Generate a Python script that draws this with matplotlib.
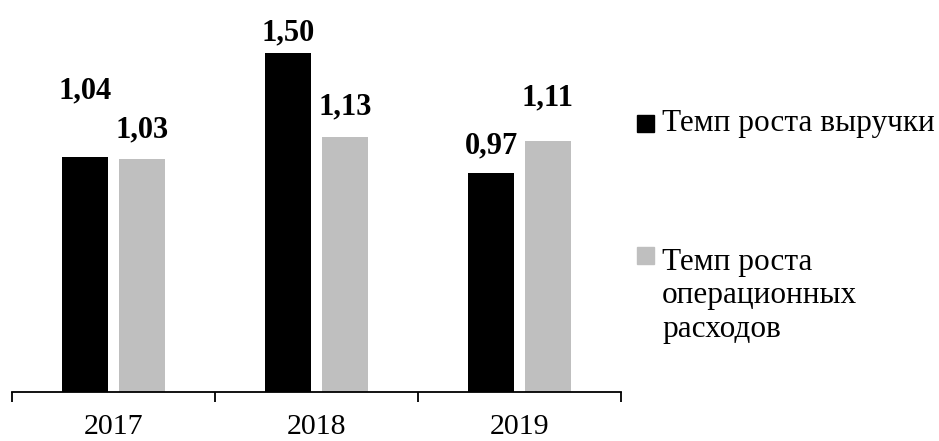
import matplotlib.pyplot as plt
import numpy as np
from matplotlib.patches import Rectangle

years = ['2017', '2018', '2019']
revenue = [1.04, 1.50, 0.97]
opex = [1.03, 1.13, 1.11]
series_names = ['Темп роста выручки', 'Темп роста\nоперационных\nрасходов']
colors = ['#000000', '#BFBFBF']
# label lift above each bar (data units), as placed in the original
rev_lift = [0.29, 0.09, 0.12]
opex_lift = [0.13, 0.13, 0.19]

plt.rcParams['font.family'] = ['Liberation Serif', 'DejaVu Serif']

fig = plt.figure(figsize=(9.39, 4.41), dpi=100)
ax = fig.add_axes([12/939, 49/441, 609/939, 0.82])

x = np.arange(len(years))
w = 0.227
off = 0.139
ax.bar(x - off, revenue, w, color=colors[0])
ax.bar(x + off, opex, w, color=colors[1])

for i in range(len(years)):
    ax.text(x[i] - off, revenue[i] + rev_lift[i], f'{revenue[i]:.2f}'.replace('.', ','),
            ha='center', va='center', fontsize=22, fontweight='bold')
    ax.text(x[i] + off, opex[i] + opex_lift[i], f'{opex[i]:.2f}'.replace('.', ','),
            ha='center', va='center', fontsize=22, fontweight='bold')

ax.set_xlim(-0.5, len(years) - 0.5)
ax.set_ylim(0, 1.6)
for s in ['top', 'right', 'left']:
    ax.spines[s].set_visible(False)
ax.spines['bottom'].set_linewidth(1.3)
ax.set_yticks([])
ax.set_xticks(x)
ax.set_xticklabels(years, fontsize=21.5)
ax.tick_params(axis='x', which='major', length=0, pad=16)
ax.set_xticks(np.arange(-0.5, len(years), 1), minor=True)
ax.tick_params(axis='x', which='minor', length=7.5, width=1.3, direction='out')

# legend
H = 441
fig.patches.append(Rectangle((637/939, 1 - 132/H), 17/939, 17/H,
                             transform=fig.transFigure, color=colors[0]))
fig.text(662/939, 1 - 123/H, series_names[0], fontsize=22.5, va='center')
fig.patches.append(Rectangle((637/939, 1 - 264/H), 17/939, 17/H,
                             transform=fig.transFigure, color=colors[1]))
fig.text(662/939, 1 - 296/H, series_names[1], fontsize=22.5, va='center',
         linespacing=1.2)

fig.savefig('out.png', dpi=100)
